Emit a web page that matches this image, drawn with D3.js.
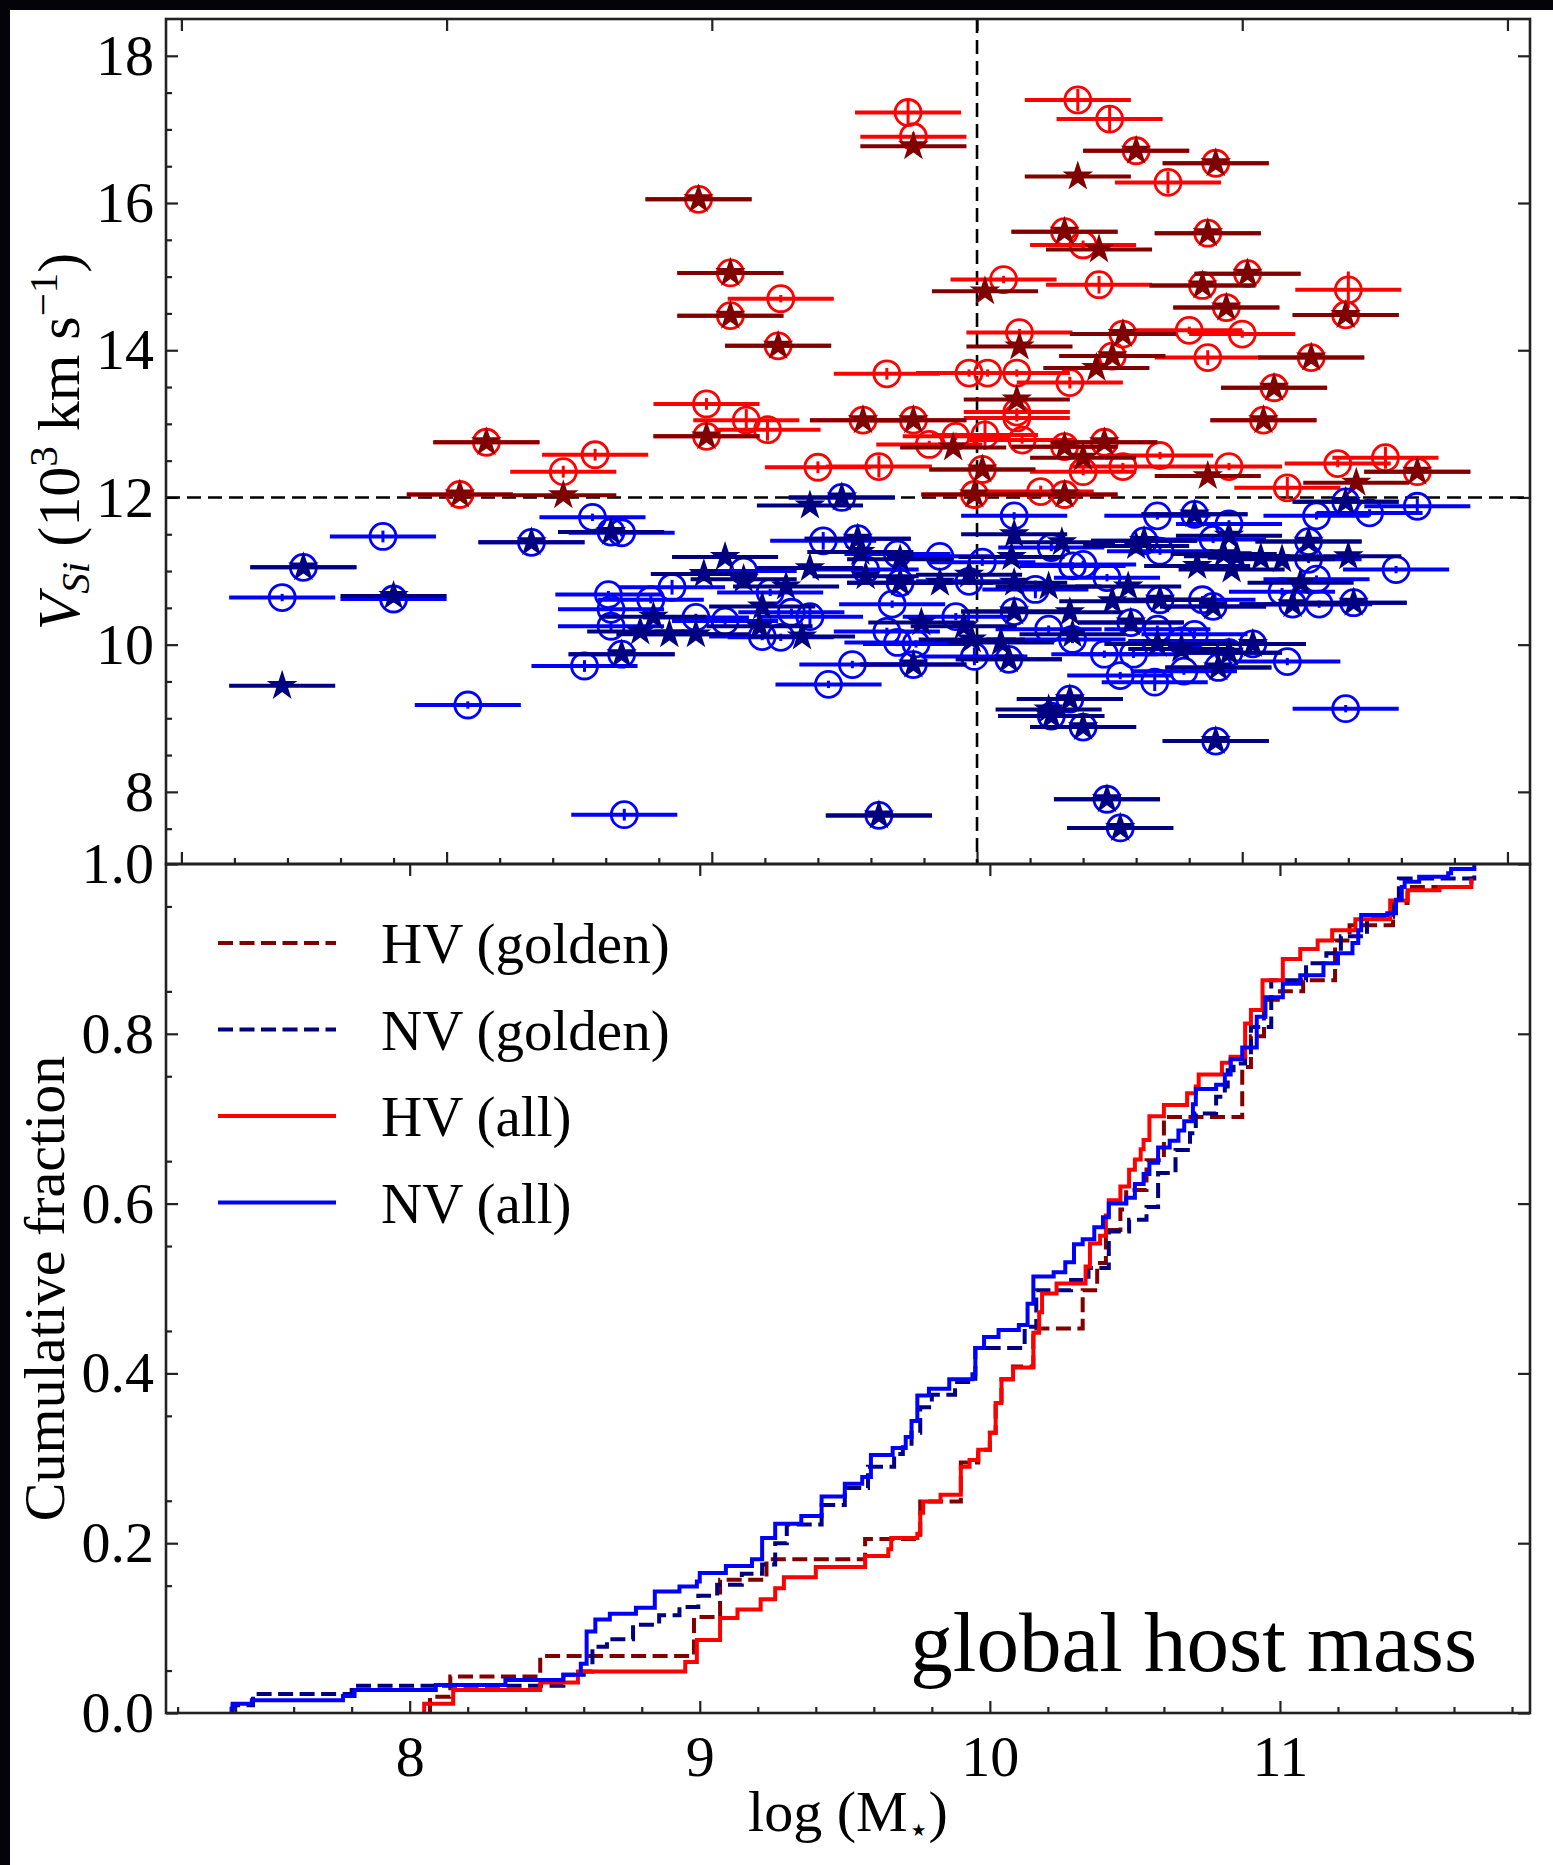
<!DOCTYPE html>
<head>
<meta http-equiv="Content-type" content="text/html;charset=UTF-8">
</head>
<style>
body { margin: 0; background: #fff; }
svg { display: block; }
text { font-family: "Liberation Serif", "Times New Roman", serif; fill: #000; }
.tick text { font-size: 58px; }
.tick line { stroke: #222; stroke-width: 2.2; }
</style>
<svg width="1553" height="1865"></svg>
<script src="https://d3js.org/d3.v7.min.js"></script>
<script>

// Si II velocity vs global host mass.  HV = high velocity, NV = normal velocity
// "all" sample = open circles, "golden" sample = filled stars
var MASS_SPLIT = 10, VEL_SPLIT = 12, MASS_ERR = 0.2;

// [log M, V_Si (10^3 km/s), err V]
var hvAll = [
  [9.74,17.23,0.18],[9.76,16.90,0.06],[10.38,17.40,0.15],[10.50,17.14,0.18],[10.60,16.71,0.06],
  [10.90,16.54,0.06],[10.72,16.28,0.15],[8.95,16.05,0.05],[10.33,15.61,0.06],[10.40,15.43,0.06],
  [10.87,15.59,0.06],[9.07,15.05,0.06],[9.26,14.70,0.05],[9.07,14.47,0.06],[9.25,14.06,0.06],
  [10.10,14.96,0.05],[10.46,14.89,0.12],[11.02,15.04,0.06],[10.85,14.88,0.06],[10.94,14.58,0.06],
  [11.40,14.82,0.25],[11.39,14.48,0.06],[10.80,14.27,0.05],[11.00,14.22,0.05],[10.16,14.24,0.05],
  [10.55,14.22,0.06],[10.51,13.92,0.06],[10.87,13.90,0.10],[11.26,13.90,0.06],[11.12,13.49,0.06],
  [11.08,13.05,0.06],[9.66,13.68,0.08],[9.97,13.69,0.05],[10.04,13.69,0.05],[10.15,13.69,0.05],
  [10.35,13.56,0.08],[8.98,13.27,0.08],[9.13,13.05,0.15],[9.21,12.92,0.15],[8.98,12.83,0.06],
  [9.57,13.05,0.06],[9.76,13.05,0.06],[10.15,13.16,0.05],[10.15,13.08,0.05],[10.03,12.85,0.20],
  [9.92,12.83,0.05],[9.82,12.72,0.05],[10.17,12.78,0.05],[10.33,12.69,0.06],[10.48,12.75,0.06],
  [10.40,12.35,0.05],[10.55,12.42,0.05],[10.69,12.57,0.05],[10.95,12.42,0.05],[11.17,12.13,0.15],
  [11.36,12.46,0.05],[11.54,12.54,0.15],[11.66,12.35,0.06],[9.40,12.41,0.08],[9.63,12.42,0.15],
  [10.02,12.38,0.06],[9.99,12.04,0.06],[10.24,12.08,0.08],[10.33,12.04,0.06],[8.15,12.75,0.06],
  [8.56,12.58,0.08],[8.44,12.35,0.08],[8.05,12.04,0.06]
];

var hvGold = [
  [9.76,16.77],[10.60,16.71],[10.90,16.54],[10.38,16.36],[8.95,16.05],[10.33,15.61],[10.46,15.37],
  [10.87,15.59],[9.07,15.05],[9.07,14.47],[9.25,14.06],[10.03,14.80],[11.02,15.04],[10.85,14.88],
  [10.94,14.58],[11.39,14.48],[10.16,14.05],[10.55,14.22],[10.51,13.92],[10.45,13.76],[11.26,13.90],
  [11.12,13.49],[11.08,13.05],[8.98,12.83],[9.57,13.05],[9.76,13.05],[10.15,13.33],[9.91,12.68],
  [10.33,12.69],[10.48,12.75],[10.40,12.54],[10.87,12.29],[11.43,12.20],[11.66,12.35],[10.02,12.38],
  [9.99,12.04],[10.33,12.04],[8.15,12.75],[8.05,12.04],[8.44,12.03]
];

var nvAll = [
  [7.38,10.64,0.05],[7.46,11.05,0.05],[7.76,11.47,0.08],[7.80,10.62,0.05],[8.08,9.18,0.05],
  [8.32,11.39,0.05],[8.55,11.73,0.05],[8.66,11.52,0.05],[8.62,11.53,0.05],[8.67,7.69,0.08],
  [8.66,9.87,0.05],[8.52,9.71,0.08],[8.61,10.68,0.05],[8.62,10.48,0.05],[8.62,10.25,0.05],
  [8.77,10.61,0.05],[8.94,10.37,0.05],[9.05,10.32,0.05],[8.85,10.78,0.10],[9.12,11.00,0.05],
  [9.22,10.71,0.05],[9.30,10.44,0.05],[9.37,10.38,0.12],[9.19,10.11,0.05],[9.26,10.10,0.05],
  [9.42,11.41,0.12],[9.55,11.44,0.05],[9.49,12.00,0.05],[9.53,9.73,0.05],[9.44,9.46,0.05],
  [9.70,11.23,0.05],[9.58,11.02,0.05],[9.71,10.84,0.05],[9.86,11.20,0.05],[10.02,11.12,0.05],
  [9.97,10.86,0.05],[9.68,10.55,0.05],[9.92,10.38,0.05],[9.66,10.18,0.05],[9.70,10.03,0.05],
  [9.77,10.01,0.05],[9.76,9.73,0.05],[9.99,9.84,0.12],[10.14,11.75,0.05],[10.28,11.32,0.05],
  [10.22,10.75,0.12],[10.36,11.07,0.05],[10.14,10.45,0.05],[10.27,10.21,0.05],[10.12,9.80,0.05],
  [10.36,10.07,0.05],[10.35,9.26,0.05],[10.28,9.03,0.05],[10.40,8.88,0.05],[10.90,8.69,0.05],
  [9.63,7.68,0.05],[10.49,7.90,0.05],[10.54,7.51,0.05],[11.39,9.13,0.05],[11.39,11.94,0.05],
  [11.48,11.79,0.05],[11.66,11.88,0.10],[11.28,11.75,0.05],[10.68,11.75,0.05],[10.82,11.77,0.05],
  [10.95,11.64,0.05],[10.63,11.41,0.05],[10.69,11.27,0.05],[10.89,11.43,0.05],[11.25,11.40,0.05],
  [11.25,11.16,0.05],[11.58,11.02,0.05],[10.40,11.09,0.05],[10.49,10.91,0.05],[10.85,10.61,0.05],
  [10.89,10.52,0.05],[10.69,10.61,0.05],[11.15,10.72,0.05],[11.28,10.89,0.05],[11.19,10.55,0.05],
  [11.29,10.55,0.05],[11.42,10.57,0.05],[10.68,10.21,0.05],[10.82,10.14,0.05],[11.04,10.01,0.05],
  [10.95,9.89,0.05],[11.17,9.77,0.05],[10.91,9.69,0.05],[10.78,9.64,0.05],[10.48,9.87,0.05],
  [10.59,9.87,0.05],[10.54,9.58,0.05],[10.67,9.49,0.12],[10.58,10.30,0.05],[10.77,10.05,0.05]
];

var nvGold = [
  [7.46,11.05],[7.38,9.44],[7.80,10.66],[8.32,11.39],[8.62,11.53],[8.66,9.87],[9.37,11.89],
  [9.49,12.00],[9.05,11.19],[8.97,10.96],[9.12,10.89],[9.37,11.04],[8.78,10.38],[8.73,10.18],
  [8.84,10.14],[8.94,10.14],[9.28,10.79],[9.19,10.52],[9.18,10.25],[9.34,10.11],[9.55,11.44],
  [9.56,11.26],[9.71,11.16],[9.71,10.84],[9.58,10.93],[9.86,10.84],[9.97,10.95],[10.14,11.50],
  [10.13,11.19],[10.14,10.84],[10.27,10.79],[9.79,10.30],[9.95,10.25],[9.76,9.73],[9.98,10.07],
  [10.14,10.45],[10.09,10.03],[10.12,9.80],[10.35,10.44],[10.35,9.26],[10.27,9.12],[10.28,9.03],
  [10.40,8.88],[10.90,8.69],[9.63,7.68],[10.49,7.90],[10.54,7.51],[11.39,11.94],[10.82,11.77],
  [10.95,11.48],[10.63,11.41],[10.60,11.34],[10.83,11.07],[10.96,11.02],[10.93,11.23],[11.25,11.40],
  [11.40,11.20],[11.07,11.18],[11.15,11.16],[10.32,11.39],[10.57,10.79],[10.51,10.59],[10.69,10.61],
  [10.89,10.52],[11.22,10.84],[11.19,10.55],[11.42,10.57],[10.36,10.14],[10.58,10.30],[10.68,10.01],
  [10.77,9.94],[11.04,10.01],[10.95,9.89],[10.91,9.69],[10.98,11.20]
];

// cumulative fractions: [log M, fraction after the step]
var cdfHvGold = [
  [8.07,0.019],[8.14,0.043],[8.45,0.067],[8.98,0.113],[9.07,0.157],[9.23,0.181],[9.57,0.205],
  [9.76,0.249],[9.90,0.295],[9.96,0.310],[10.00,0.330],[10.02,0.365],[10.04,0.393],[10.08,0.408],
  [10.15,0.453],[10.32,0.498],[10.37,0.530],[10.40,0.569],[10.45,0.593],[10.47,0.616],[10.54,0.651],
  [10.60,0.702],[10.87,0.761],[10.90,0.797],[10.945,0.840],[11.00,0.850],[11.08,0.863],[11.19,0.910],
  [11.24,0.928],[11.39,0.954],[11.44,0.973],[11.66,0.985]
];
var cdfNvGold = [
  [7.39,0.009],[7.46,0.0225],[7.80,0.032],[8.53,0.045],[8.60,0.049],[8.63,0.078],[8.68,0.087],
  [8.77,0.104],[8.86,0.115],[8.93,0.125],[8.995,0.138],[9.06,0.151],[9.145,0.164],[9.215,0.175],
  [9.26,0.200],[9.30,0.222],[9.42,0.245],[9.50,0.265],[9.58,0.290],[9.67,0.305],[9.70,0.313],
  [9.73,0.330],[9.76,0.360],[9.80,0.375],[9.88,0.390],[9.95,0.430],[10.12,0.455],[10.16,0.498],
  [10.28,0.510],[10.34,0.524],[10.41,0.567],[10.48,0.581],[10.54,0.596],[10.58,0.636],[10.64,0.663],
  [10.69,0.683],[10.71,0.706],[10.78,0.726],[10.81,0.738],[10.82,0.757],[10.84,0.765],[10.88,0.775],
  [10.90,0.808],[10.97,0.863],[11.09,0.883],[11.16,0.895],[11.21,0.915],[11.30,0.938],[11.39,0.950],
  [11.41,0.983],[11.67,0.995]
];
var cdfHvAll = [
  [8.05,0.011],[8.15,0.027],[8.45,0.036],[8.58,0.049],[8.95,0.060],[8.99,0.086],[9.07,0.112],
  [9.13,0.122],[9.21,0.134],[9.26,0.147],[9.29,0.160],[9.40,0.172],[9.57,0.185],[9.65,0.193],
  [9.66,0.206],[9.75,0.211],[9.76,0.236],[9.77,0.249],[9.83,0.257],[9.90,0.290],[9.93,0.298],
  [9.96,0.310],[10.00,0.330],[10.02,0.365],[10.04,0.393],[10.08,0.407],[10.15,0.448],[10.17,0.472],
  [10.18,0.494],[10.23,0.506],[10.33,0.526],[10.345,0.553],[10.38,0.562],[10.40,0.586],[10.41,0.604],
  [10.45,0.620],[10.48,0.640],[10.50,0.652],[10.52,0.664],[10.53,0.675],[10.55,0.703],[10.60,0.716],
  [10.68,0.730],[10.71,0.738],[10.72,0.752],[10.80,0.766],[10.83,0.773],[10.88,0.812],[10.90,0.828],
  [10.94,0.863],[11.01,0.888],[11.07,0.900],[11.13,0.910],[11.18,0.922],[11.26,0.935],[11.38,0.957],
  [11.44,0.969],[11.55,0.973],[11.66,0.983]
];
var cdfNvAll = [
  [7.386,0.005],[7.39,0.011],[7.456,0.015],[7.77,0.020],[7.81,0.027],[8.09,0.033],[8.33,0.039],
  [8.53,0.045],[8.59,0.058],[8.61,0.096],[8.64,0.110],[8.69,0.117],[8.78,0.124],[8.845,0.143],
  [8.93,0.149],[8.99,0.155],[9.00,0.165],[9.09,0.173],[9.18,0.181],[9.215,0.206],[9.26,0.223],
  [9.35,0.232],[9.42,0.255],[9.50,0.270],[9.56,0.278],[9.59,0.304],[9.665,0.312],[9.71,0.325],
  [9.73,0.344],[9.75,0.374],[9.79,0.382],[9.86,0.393],[9.94,0.399],[9.95,0.430],[9.98,0.443],
  [10.03,0.451],[10.10,0.457],[10.13,0.482],[10.15,0.514],[10.22,0.519],[10.26,0.531],[10.29,0.552],
  [10.32,0.558],[10.36,0.572],[10.39,0.584],[10.41,0.600],[10.47,0.607],[10.50,0.623],[10.53,0.635],
  [10.55,0.648],[10.58,0.666],[10.62,0.674],[10.65,0.686],[10.67,0.697],[10.70,0.717],[10.71,0.735],
  [10.78,0.740],[10.81,0.752],[10.83,0.770],[10.87,0.784],[10.92,0.820],[10.95,0.843],[11.01,0.859],
  [11.07,0.869],[11.15,0.883],[11.20,0.895],[11.25,0.907],[11.27,0.922],[11.28,0.940],[11.37,0.942],
  [11.40,0.958],[11.42,0.973],[11.43,0.979],[11.48,0.985],[11.58,0.989],[11.59,0.994],[11.67,1.0]
];

var yTopMajor = [8, 10, 12, 14, 16, 18],
    xTopMajor = [7, 8, 9, 10, 11, 12],
    yBotMajor = [0, 0.2, 0.4, 0.6, 0.8, 1.0],
    xBotMajor = [8, 9, 10, 11];

var legendLabels = ["HV (golden)", "NV (golden)", "HV (all)", "NV (all)"];

var red = "#ff0000", darkred = "#800000", blue = "#0000ff", navy = "#000080";

// note: "top" is reserved on window, so the panel edges get their own names
var svg = d3.select("svg"),
    pLeft = 166, pRight = 1530, pTop = 19, pMid = 864, pBottom = 1713;

svg.append("rect").attr("width", 1553).attr("height", 1865).attr("fill", "#fff");
// the figure sits in a dark frame (top and left edges)
svg.append("rect").attr("width", 1553).attr("height", 10).attr("fill", "#05030a");
svg.append("rect").attr("width", 10).attr("height", 1865).attr("fill", "#05030a");

var xTop = d3.scaleLinear().domain([6.942, 12.085]).range([pLeft, pRight]),
    yTop = d3.scaleLinear().domain([7.02, 18.5]).range([pMid, pTop]),
    xBot = d3.scaleLinear().domain([7.16, 11.862]).range([pLeft, pRight]),
    yBot = d3.scaleLinear().domain([0, 1]).range([pBottom, pMid]);

function noLabel() { return ""; }
var noInt = function(v) { return Math.abs(v - Math.round(v)) > 1e-6; };

function addAxis(axis, tx, ty, values, size, fmt, pad) {
  svg.append("g")
      .attr("transform", "translate(" + tx + "," + ty + ")")
      .call(axis.tickValues(values).tickSize(size).tickPadding(pad).tickFormat(fmt))
      .call(function(g) { g.select(".domain").remove(); });
}

// top panel axes
addAxis(d3.axisLeft(yTop), pLeft, 0, yTopMajor, -12, d3.format("d"), 12);
addAxis(d3.axisLeft(yTop), pLeft, 0, d3.range(7.5, 18.5, 0.5).filter(function(v) { return v % 2 != 0; }), -6, noLabel, 12);
addAxis(d3.axisRight(yTop), pRight, 0, yTopMajor, -12, noLabel, 12);
addAxis(d3.axisBottom(xTop), 0, pMid, xTopMajor, -12, noLabel, 12);
addAxis(d3.axisBottom(xTop), 0, pMid, d3.range(7.0, 12.0, 0.2).filter(noInt), -6, noLabel, 12);
addAxis(d3.axisTop(xTop), 0, pTop, xTopMajor, -12, noLabel, 12);

// bottom panel axes
addAxis(d3.axisLeft(yBot), pLeft, 0, yBotMajor, -12, d3.format(".1f"), 12);
addAxis(d3.axisLeft(yBot), pLeft, 0, d3.range(0.05, 1, 0.1), -6, noLabel, 12);
addAxis(d3.axisRight(yBot), pRight, 0, yBotMajor, -12, noLabel, 12);
addAxis(d3.axisBottom(xBot), 0, pBottom, xBotMajor, -12, d3.format("d"), 22);
addAxis(d3.axisBottom(xBot), 0, pBottom, d3.range(7.2, 11.81, 0.2).filter(noInt), -6, noLabel, 22);
addAxis(d3.axisTop(xBot), 0, pMid, xBotMajor, -12, noLabel, 12);

// split lines
svg.append("line")
    .attr("x1", pLeft).attr("x2", pRight)
    .attr("y1", yTop(VEL_SPLIT)).attr("y2", yTop(VEL_SPLIT))
    .attr("stroke", "#000").attr("stroke-width", 2.6).attr("stroke-dasharray", "14,7");
svg.append("line")
    .attr("x1", xTop(MASS_SPLIT)).attr("x2", xTop(MASS_SPLIT))
    .attr("y1", pTop).attr("y2", pMid)
    .attr("stroke", "#000").attr("stroke-width", 2.6).attr("stroke-dasharray", "14,7");

var scat = svg.append("g");

function xBars(g, data, color) {
  g.selectAll(null).data(data).enter().append("line")
      .attr("x1", function(d) { return xTop(d[0] - MASS_ERR); })
      .attr("x2", function(d) { return xTop(d[0] + MASS_ERR); })
      .attr("y1", function(d) { return yTop(d[1]); })
      .attr("y2", function(d) { return yTop(d[1]); })
      .attr("stroke", color).attr("stroke-width", 4);
}

function circles(data, color) {
  var g = scat.append("g");
  xBars(g, data, color);
  g.selectAll(null).data(data).enter().append("line")
      .attr("x1", function(d) { return xTop(d[0]); })
      .attr("x2", function(d) { return xTop(d[0]); })
      .attr("y1", function(d) { return yTop(d[1] - d[2]); })
      .attr("y2", function(d) { return yTop(d[1] + d[2]); })
      .attr("stroke", color).attr("stroke-width", 3);
  g.selectAll(null).data(data).enter().append("circle")
      .attr("cx", function(d) { return xTop(d[0]); })
      .attr("cy", function(d) { return yTop(d[1]); })
      .attr("r", 13)
      .attr("fill", "none").attr("stroke", color).attr("stroke-width", 2.8);
}

function stars(data, color) {
  var g = scat.append("g");
  xBars(g, data, color);
  g.selectAll(null).data(data).enter().append("path")
      .attr("d", d3.symbol(d3.symbolStar, 290))
      .attr("transform", function(d) { return "translate(" + xTop(d[0]) + "," + yTop(d[1]) + ")"; })
      .attr("fill", color);
}

circles(hvAll, red);
stars(hvGold, darkred);
circles(nvAll, blue);
stars(nvGold, navy);

// cumulative distributions
var cdfs = [
  {pts: cdfHvGold, color: darkred, dash: "15,6.5"},
  {pts: cdfNvGold, color: navy, dash: "15,6.5"},
  {pts: cdfHvAll, color: red, dash: null},
  {pts: cdfNvAll, color: blue, dash: null}
];

var step = d3.line()
    .x(function(d) { return xBot(d[0]); })
    .y(function(d) { return yBot(d[1]); })
    .curve(d3.curveStepAfter);

cdfs.forEach(function(c, i) {
  svg.append("path")
      .attr("d", step([[c.pts[0][0], 0]].concat(c.pts)))
      .attr("fill", "none")
      .attr("stroke", c.color)
      .attr("stroke-width", 4)
      .attr("stroke-dasharray", c.dash);

  // legend
  var ly = 943 + i * 86.5;
  svg.append("line")
      .attr("x1", 218).attr("x2", 336).attr("y1", ly).attr("y2", ly)
      .attr("stroke", c.color).attr("stroke-width", 4)
      .attr("stroke-dasharray", c.dash);
  svg.append("text")
      .attr("x", 381).attr("y", ly + 20)
      .style("font-size", "57px")
      .text(legendLabels[i]);
});

// frames
svg.append("rect")
    .attr("x", pLeft).attr("y", pTop).attr("width", pRight - pLeft).attr("height", pMid - pTop)
    .attr("fill", "none").attr("stroke", "#222").attr("stroke-width", 2.6);
svg.append("rect")
    .attr("x", pLeft).attr("y", pMid).attr("width", pRight - pLeft).attr("height", pBottom - pMid)
    .attr("fill", "none").attr("stroke", "#222").attr("stroke-width", 2.6);

svg.append("text")
    .attr("x", 1477).attr("y", 1671)
    .attr("text-anchor", "end")
    .style("font-size", "85px")
    .text("global host mass");

// axis labels
var yl = svg.append("text")
    .attr("transform", "translate(79," + ((pTop + pMid) / 2) + ") rotate(-90)")
    .attr("text-anchor", "middle")
    .style("font-size", "60px");
yl.append("tspan").style("font-style", "italic").text("V");
yl.append("tspan").style("font-style", "italic").style("font-size", "41px").attr("dy", 10).text("Si");
yl.append("tspan").attr("dy", -10).text(" (10");
yl.append("tspan").style("font-size", "41px").attr("dy", -22).text("3");
yl.append("tspan").attr("dy", 22).text(" km s");
yl.append("tspan").style("font-size", "41px").attr("dy", -22).text("\u22121");
yl.append("tspan").attr("dy", 22).text(")");

svg.append("text")
    .attr("transform", "translate(64," + ((pMid + pBottom) / 2) + ") rotate(-90)")
    .attr("text-anchor", "middle")
    .style("font-size", "58px")
    .text("Cumulative fraction");

var xl = svg.append("text")
    .attr("x", (pLeft + pRight) / 2).attr("y", 1831)
    .attr("text-anchor", "middle")
    .style("font-size", "58px");
xl.append("tspan").text("log (M");
xl.append("tspan").style("font-size", "34px").attr("dy", 10).text("\u22c6");
xl.append("tspan").attr("dy", -10).text(")");

</script>
